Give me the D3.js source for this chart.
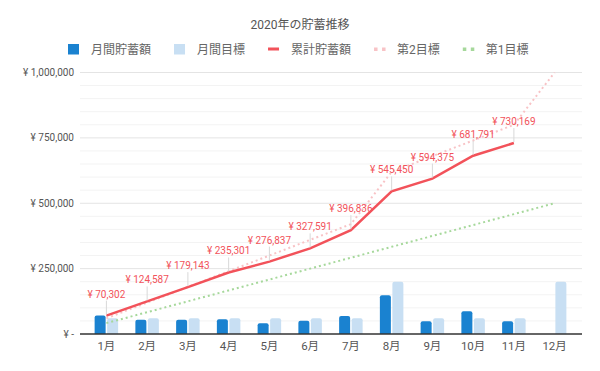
<!DOCTYPE html>
<html>
<head>
<meta charset="utf-8">
<script src="https://cdn.jsdelivr.net/npm/d3@7"></script>
<style>
  body { margin: 0; background: #fff; }
  svg { display: block; font-family: Roboto, "Noto Sans CJK JP", sans-serif; }
</style>
</head>
<body>
<svg id="chart" width="600" height="371"></svg>
<script>
// 2020年の貯蓄推移 - monthly savings vs targets

const months = ["1月", "2月", "3月", "4月", "5月", "6月", "7月", "8月", "9月", "10月", "11月", "12月"];
const monthlySaving = [70302, 54285, 54556, 56158, 41536, 50754, 69245, 148614, 48925, 87416, 48378, null];
const monthlyTarget = [60000, 60000, 60000, 60000, 60000, 60000, 60000, 200000, 60000, 60000, 60000, 200000];
const cumulative = [70302, 124587, 179143, 235301, 276837, 327591, 396836, 545450, 594375, 681791, 730169, null];
const target2 = [60000, 120000, 180000, 240000, 300000, 360000, 420000, 620000, 680000, 740000, 800000, 1000000];
const target1 = [41667, 83333, 125000, 166667, 208333, 250000, 291667, 333333, 375000, 416667, 458333, 500000];
const yTicks = [0, 250000, 500000, 750000, 1000000];
const yMinor = d3.range(0, 1000001, 50000);

const colors = {
    saving: "#1a82d0",
    target: "#c8dff3",
    cumulative: "#f2525a",
    target2: "#f8c3c6",
    target1: "#a6d89b"
};

const svg = d3.select("#chart");

const plotLeft = 80, plotRight = 582, plotTop = 72.5, plotBottom = 334;

const x = d3.scaleBand().domain(months).range([86, 575]);
const y = d3.scaleLinear().domain([0, 1000000]).range([plotBottom, plotTop]);
const cx = m => x(m) + x.bandwidth() / 2;

// title
svg.append("text")
    .attr("x", 300).attr("y", 29)
    .attr("text-anchor", "middle")
    .attr("font-size", "12px")
    .attr("fill", "#555")
    .text("2020年の貯蓄推移");

// legend
const legendItems = [
    { name: "月間貯蓄額", type: "rect", color: colors.saving },
    { name: "月間目標", type: "rect", color: colors.target },
    { name: "累計貯蓄額", type: "line", color: colors.cumulative },
    { name: "第2目標", type: "dots", color: colors.target2 },
    { name: "第1目標", type: "dots", color: colors.target1 }
];
let lx = 68;
const legend = svg.append("g");
legendItems.forEach(item => {
    const g = legend.append("g");
    if (item.type === "rect") {
        g.append("rect").attr("x", lx).attr("y", 44).attr("width", 11).attr("height", 10.5).attr("fill", item.color);
    } else if (item.type === "line") {
        g.append("rect").attr("x", lx).attr("y", 47.5).attr("width", 11).attr("height", 3).attr("fill", item.color);
    } else {
        g.append("rect").attr("x", lx).attr("y", 47.5).attr("width", 3.5).attr("height", 3.5).attr("fill", item.color);
        g.append("rect").attr("x", lx + 8).attr("y", 47.5).attr("width", 3.5).attr("height", 3.5).attr("fill", item.color);
    }
    const t = g.append("text")
        .attr("x", lx + 23).attr("y", 53.5)
        .attr("font-size", "12px")
        .attr("fill", "#666")
        .text(item.name);
    lx += 23 + t.node().getComputedTextLength() + 23;
});

// gridlines
svg.append("g").selectAll("line")
    .data(yMinor.filter(v => !yTicks.includes(v)))
    .enter().append("line")
    .attr("x1", plotLeft).attr("x2", plotRight)
    .attr("y1", d => y(d)).attr("y2", d => y(d))
    .attr("stroke", "#f3f3f3");

svg.append("g").selectAll("line")
    .data(yTicks.filter(v => v > 0))
    .enter().append("line")
    .attr("x1", plotLeft).attr("x2", plotRight)
    .attr("y1", d => y(d)).attr("y2", d => y(d))
    .attr("stroke", "#e4e4e4");

// y axis labels
svg.append("g").selectAll("text")
    .data(yTicks)
    .enter().append("text")
    .attr("x", 74)
    .attr("y", d => y(d))
    .attr("dy", "0.35em")
    .attr("text-anchor", "end")
    .attr("font-size", "10px")
    .attr("fill", "#555")
    .text(d => d === 0 ? "¥ -" : "¥ " + d3.format(",")(d));

function roundedTop(x0, y0, w, h, r) {
    return `M${x0},${y0 + h}V${y0 + r}Q${x0},${y0} ${x0 + r},${y0}H${x0 + w - r}Q${x0 + w},${y0} ${x0 + w},${y0 + r}V${y0 + h}Z`;
}

// bars
const bars = svg.append("g");
bars.selectAll(".saving")
    .data(months.map((m, i) => ({ m, v: monthlySaving[i] })).filter(d => d.v != null))
    .enter().append("path")
    .attr("class", "saving")
    .attr("fill", colors.saving)
    .attr("d", d => roundedTop(cx(d.m) - 11.75, y(d.v), 11, plotBottom - y(d.v), 2));

bars.selectAll(".target")
    .data(months.map((m, i) => ({ m, v: monthlyTarget[i] })))
    .enter().append("path")
    .attr("class", "target")
    .attr("fill", colors.target)
    .attr("d", d => roundedTop(cx(d.m) + 0.75, y(d.v), 11, plotBottom - y(d.v), 2));

// axis baseline
svg.append("line")
    .attr("x1", plotLeft).attr("x2", plotRight)
    .attr("y1", plotBottom).attr("y2", plotBottom)
    .attr("stroke", "#333").attr("stroke-width", 1.5);

// x labels
svg.append("g").selectAll("text")
    .data(months)
    .enter().append("text")
    .attr("x", d => cx(d))
    .attr("y", 350)
    .attr("text-anchor", "middle")
    .attr("font-size", "11.5px")
    .attr("fill", "#555")
    .text(d => d);

// lines
const line = d3.line()
    .defined(d => d.v != null)
    .x(d => cx(d.m))
    .y(d => y(d.v));

svg.append("path")
    .datum(months.map((m, i) => ({ m, v: target1[i] })))
    .attr("fill", "none")
    .attr("stroke", colors.target1)
    .attr("stroke-width", 2)
    .attr("stroke-dasharray", "2,3")
    .attr("d", line);

svg.append("path")
    .datum(months.map((m, i) => ({ m, v: target2[i] })))
    .attr("fill", "none")
    .attr("stroke", colors.target2)
    .attr("stroke-width", 2)
    .attr("stroke-dasharray", "2,3")
    .attr("d", line);

const cumData = months.map((m, i) => ({ m, v: cumulative[i] })).filter(d => d.v != null);

svg.append("path")
    .datum(cumData)
    .attr("fill", "none")
    .attr("stroke", colors.cumulative)
    .attr("stroke-width", 2.5)
    .attr("d", line);

// data labels with leader lines
const labels = svg.append("g");
labels.selectAll("line")
    .data(cumData)
    .enter().append("line")
    .attr("x1", d => cx(d.m)).attr("x2", d => cx(d.m))
    .attr("y1", d => y(d.v) - 1).attr("y2", d => y(d.v) - 15)
    .attr("stroke", "#d8d8d8");

labels.selectAll("text")
    .data(cumData)
    .enter().append("text")
    .attr("x", d => cx(d.m))
    .attr("y", d => y(d.v) - 18)
    .attr("text-anchor", "middle")
    .attr("font-size", "10px")
    .attr("fill", colors.cumulative)
    .text(d => "¥ " + d3.format(",")(d.v));
</script>
</body>
</html>
